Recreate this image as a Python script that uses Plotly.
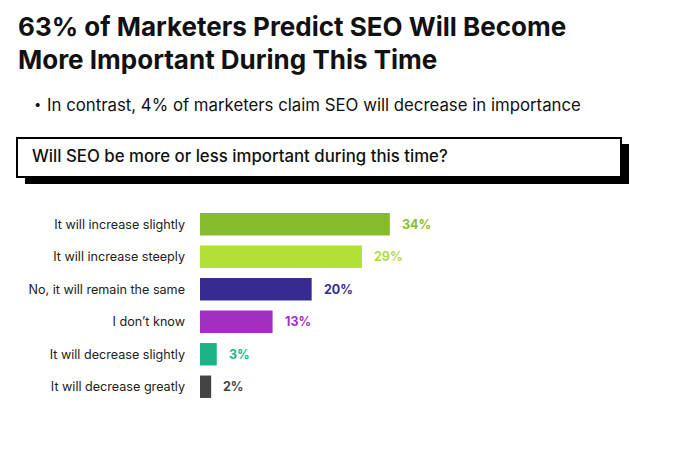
import plotly.graph_objects as go

categories = ["It will increase slightly", "It will increase steeply", "No, it will remain the same",
              "I don\u2019t know", "It will decrease slightly", "It will decrease greatly"]
values = [34, 29, 20, 13, 3, 2]
bar_colors = ["#86BC2B", "#B2E034", "#372A91", "#A22FBF", "#1BB487", "#444444"]
label_colors = ["#86BC2B", "#B2DB3E", "#372A91", "#A22FBF", "#1BB487", "#444444"]

title_lines = ["63% of Marketers Predict SEO Will Become", "More Important During This Time"]
subtitle = "In contrast, 4% of marketers claim SEO will decrease in importance"
question = "Will SEO be more or less important during this time?"

W, H = 678, 456
L, R, T, B = 200, 143, 208, 53
PW, PH = W - L - R, H - T - B

def px(x):
    return (x - L) / PW

def py(y):
    return (H - B - y) / PH

FONT = "Inter"

fig = go.Figure(go.Bar(
    x=values, y=categories, orientation="h",
    marker=dict(color=bar_colors, line=dict(width=0)),
    hoverinfo="skip",
))

annotations = []
for c, v, col in zip(categories, values, label_colors):
    annotations.append(dict(x=v, y=c, xref="x", yref="y", text=f"<b>{v}%</b>", showarrow=False,
                            xanchor="left", xshift=10, font=dict(family=FONT, size=12.5, color=col)))

annotations.append(dict(x=px(16), y=py(26), xref="paper", yref="paper", xanchor="left", yanchor="middle",
                        text=f"<b>{title_lines[0]}</b>", showarrow=False,
                        font=dict(family=FONT, size=26, color="#111111")))
annotations.append(dict(x=px(16), y=py(59.5), xref="paper", yref="paper", xanchor="left", yanchor="middle",
                        text=f"<b>{title_lines[1]}</b>", showarrow=False,
                        font=dict(family=FONT, size=26, color="#111111")))
annotations.append(dict(x=px(32), y=py(104), xref="paper", yref="paper", xanchor="left", yanchor="middle",
                        text="\u2022", showarrow=False,
                        font=dict(family=FONT, size=13, color="#111111")))
annotations.append(dict(x=px(45), y=py(105), xref="paper", yref="paper", xanchor="left", yanchor="middle",
                        text=subtitle, showarrow=False,
                        font=dict(family=FONT, size=16.8, color="#111111")))
annotations.append(dict(x=px(30), y=py(156), xref="paper", yref="paper", xanchor="left", yanchor="middle",
                        text=question, showarrow=False,
                        font=dict(family=FONT, size=16.8, color="#111111", weight=500)))

shapes = [
    dict(type="rect", xref="paper", yref="paper", x0=px(25), x1=px(629), y0=py(144), y1=py(184),
         fillcolor="#000000", line=dict(width=0), layer="below"),
    dict(type="rect", xref="paper", yref="paper", x0=px(17), x1=px(621), y0=py(138), y1=py(177),
         fillcolor="#FFFFFF", line=dict(width=2, color="#000000"), layer="below"),
]

fig.update_layout(
    width=W, height=H,
    margin=dict(l=L, r=R, t=T, b=B),
    paper_bgcolor="white", plot_bgcolor="white",
    bargap=0.31,
    showlegend=False,
    annotations=annotations,
    shapes=shapes,
    xaxis=dict(range=[0, 60], visible=False, fixedrange=True),
    yaxis=dict(autorange="reversed", showgrid=False, zeroline=False, showline=False, ticks="",
               ticklabelstandoff=14, tickfont=dict(family=FONT, size=12.6, color="#222222"), fixedrange=True),
    font=dict(family=FONT),
)

fig.write_html("out.html", config={"displayModeBar": False},
               post_script="document.body.style.margin='0';document.body.style.overflow='hidden';")
